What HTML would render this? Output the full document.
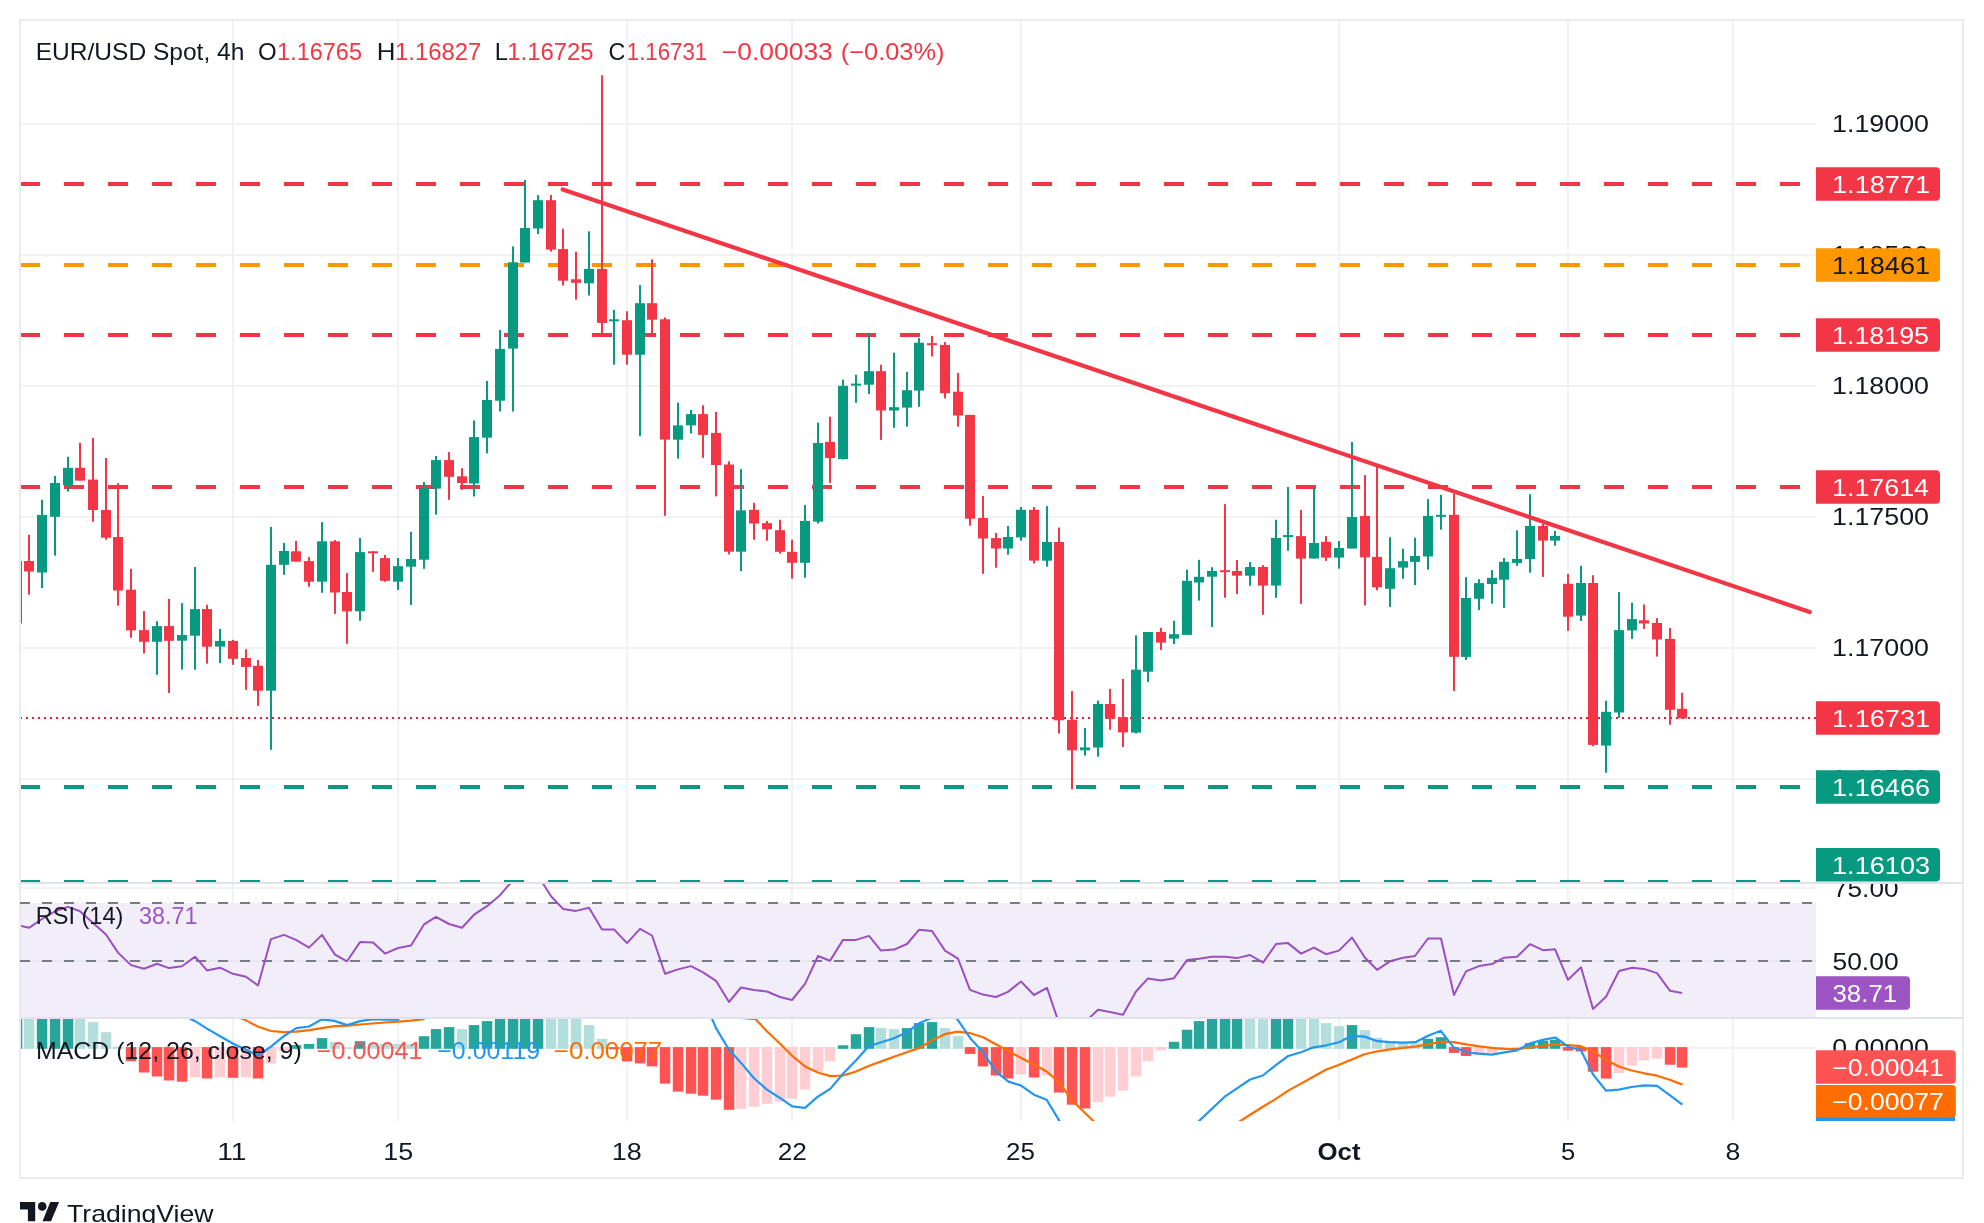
<!DOCTYPE html><html><head><meta charset="utf-8"><style>
html,body{margin:0;padding:0;background:#fff;width:1984px;height:1223px;overflow:hidden;position:relative}
svg text{font-family:"Liberation Sans",sans-serif}
.ov{will-change:transform}
</style></head><body>
<svg width="1984" height="1223" viewBox="0 0 1984 1223" style="position:absolute;left:0;top:0"><defs><clipPath id="cp"><rect x="21" y="21" width="1795" height="861"/></clipPath><clipPath id="cr"><rect x="21" y="884" width="1795" height="133"/></clipPath><clipPath id="cm"><rect x="21" y="1019" width="1795" height="102"/></clipPath></defs><rect x="20" y="20" width="1943" height="1158" fill="#fff" stroke="#eaebef" stroke-width="2"/><rect x="232" y="21" width="2" height="1100" fill="#f1f2f3"/><rect x="397" y="21" width="2" height="1100" fill="#f1f2f3"/><rect x="626" y="21" width="2" height="1100" fill="#f1f2f3"/><rect x="791" y="21" width="2" height="1100" fill="#f1f2f3"/><rect x="1020" y="21" width="2" height="1100" fill="#f1f2f3"/><rect x="1338" y="21" width="2" height="1100" fill="#f1f2f3"/><rect x="1567" y="21" width="2" height="1100" fill="#f1f2f3"/><rect x="1732" y="21" width="2" height="1100" fill="#f1f2f3"/><rect x="21" y="123.0" width="1795" height="2" fill="#f1f2f3"/><rect x="21" y="254.0" width="1795" height="2" fill="#f1f2f3"/><rect x="21" y="385.0" width="1795" height="2" fill="#f1f2f3"/><rect x="21" y="516.0" width="1795" height="2" fill="#f1f2f3"/><rect x="21" y="647.0" width="1795" height="2" fill="#f1f2f3"/><rect x="21" y="778.0" width="1795" height="2" fill="#f1f2f3"/><rect x="21" y="887" width="1795" height="2" fill="#f1f2f3"/><rect x="21" y="882" width="1942" height="2" fill="#e0e3eb"/><rect x="21" y="1017" width="1942" height="2" fill="#e0e3eb"/><g clip-path="url(#cp)"><line x1="20" y1="184.0" x2="1816" y2="184.0" stroke="#f23645" stroke-width="4" stroke-dasharray="20 24"/><line x1="20" y1="265.0" x2="1816" y2="265.0" stroke="#ff9800" stroke-width="4" stroke-dasharray="20 24"/><line x1="20" y1="335.0" x2="1816" y2="335.0" stroke="#f23645" stroke-width="4" stroke-dasharray="20 24"/><line x1="20" y1="487.0" x2="1816" y2="487.0" stroke="#f23645" stroke-width="4" stroke-dasharray="20 24"/><line x1="20" y1="787.0" x2="1816" y2="787.0" stroke="#089981" stroke-width="4" stroke-dasharray="20 24"/><line x1="20" y1="882.0" x2="1816" y2="882.0" stroke="#089981" stroke-width="4" stroke-dasharray="20 24"/><line x1="20" y1="718" x2="1816" y2="718" stroke="#ee1a2a" stroke-width="2" stroke-dasharray="2 4"/><rect x="16.0" y="561.0" width="2" height="62.5" fill="#089981"/><rect x="12.0" y="561.0" width="10" height="62.5" fill="#089981"/><rect x="28.0" y="534.8" width="2" height="59.8" fill="#f23645"/><rect x="24.0" y="561.0" width="10" height="10.5" fill="#f23645"/><rect x="41.0" y="499.7" width="2" height="88.3" fill="#089981"/><rect x="37.0" y="514.9" width="10" height="57.6" fill="#089981"/><rect x="54.0" y="475.9" width="2" height="79.7" fill="#089981"/><rect x="50.0" y="483.0" width="10" height="33.8" fill="#089981"/><rect x="67.0" y="456.8" width="2" height="34.8" fill="#089981"/><rect x="63.0" y="467.8" width="10" height="17.2" fill="#089981"/><rect x="79.0" y="442.8" width="2" height="37.8" fill="#f23645"/><rect x="75.0" y="467.8" width="10" height="12.8" fill="#f23645"/><rect x="92.0" y="437.9" width="2" height="83.9" fill="#f23645"/><rect x="88.0" y="479.6" width="10" height="30.4" fill="#f23645"/><rect x="105.0" y="458.0" width="2" height="81.7" fill="#f23645"/><rect x="101.0" y="510.0" width="10" height="27.7" fill="#f23645"/><rect x="117.0" y="483.3" width="2" height="122.4" fill="#f23645"/><rect x="113.0" y="537.0" width="10" height="53.5" fill="#f23645"/><rect x="130.0" y="568.9" width="2" height="68.9" fill="#f23645"/><rect x="126.0" y="589.7" width="10" height="40.7" fill="#f23645"/><rect x="143.0" y="611.0" width="2" height="42.5" fill="#f23645"/><rect x="139.0" y="630.1" width="10" height="11.7" fill="#f23645"/><rect x="156.0" y="621.2" width="2" height="53.6" fill="#089981"/><rect x="152.0" y="626.1" width="10" height="15.7" fill="#089981"/><rect x="168.0" y="598.9" width="2" height="94.0" fill="#f23645"/><rect x="164.0" y="626.1" width="10" height="14.7" fill="#f23645"/><rect x="181.0" y="603.1" width="2" height="66.5" fill="#089981"/><rect x="177.0" y="635.0" width="10" height="5.7" fill="#089981"/><rect x="194.0" y="567.0" width="2" height="102.7" fill="#089981"/><rect x="190.0" y="609.1" width="10" height="26.6" fill="#089981"/><rect x="206.0" y="604.8" width="2" height="58.9" fill="#f23645"/><rect x="202.0" y="609.1" width="10" height="37.6" fill="#f23645"/><rect x="219.0" y="629.0" width="2" height="34.0" fill="#089981"/><rect x="215.0" y="640.9" width="10" height="5.7" fill="#089981"/><rect x="232.0" y="639.9" width="2" height="24.9" fill="#f23645"/><rect x="228.0" y="640.9" width="10" height="17.9" fill="#f23645"/><rect x="245.0" y="649.2" width="2" height="40.6" fill="#f23645"/><rect x="241.0" y="658.0" width="10" height="8.9" fill="#f23645"/><rect x="257.0" y="659.9" width="2" height="45.9" fill="#f23645"/><rect x="253.0" y="665.8" width="10" height="24.9" fill="#f23645"/><rect x="270.0" y="527.0" width="2" height="222.8" fill="#089981"/><rect x="266.0" y="564.8" width="10" height="125.9" fill="#089981"/><rect x="283.0" y="542.9" width="2" height="31.9" fill="#089981"/><rect x="279.0" y="551.0" width="10" height="13.8" fill="#089981"/><rect x="295.0" y="541.0" width="2" height="20.6" fill="#f23645"/><rect x="291.0" y="551.3" width="10" height="10.3" fill="#f23645"/><rect x="308.0" y="557.1" width="2" height="29.7" fill="#f23645"/><rect x="304.0" y="561.1" width="10" height="20.6" fill="#f23645"/><rect x="321.0" y="522.1" width="2" height="70.7" fill="#089981"/><rect x="317.0" y="541.3" width="10" height="40.4" fill="#089981"/><rect x="334.0" y="540.1" width="2" height="73.7" fill="#f23645"/><rect x="330.0" y="541.3" width="10" height="51.2" fill="#f23645"/><rect x="346.0" y="573.1" width="2" height="70.7" fill="#f23645"/><rect x="342.0" y="592.0" width="10" height="19.4" fill="#f23645"/><rect x="359.0" y="537.9" width="2" height="82.9" fill="#089981"/><rect x="355.0" y="552.1" width="10" height="59.2" fill="#089981"/><rect x="372.0" y="551.3" width="2" height="20.6" fill="#f23645"/><rect x="368.0" y="551.3" width="10" height="2.0" fill="#f23645"/><rect x="384.0" y="555.0" width="2" height="26.8" fill="#f23645"/><rect x="380.0" y="558.1" width="10" height="22.7" fill="#f23645"/><rect x="397.0" y="558.0" width="2" height="31.9" fill="#089981"/><rect x="393.0" y="566.2" width="10" height="15.5" fill="#089981"/><rect x="410.0" y="531.9" width="2" height="73.0" fill="#089981"/><rect x="406.0" y="559.0" width="10" height="7.7" fill="#089981"/><rect x="423.0" y="482.1" width="2" height="86.7" fill="#089981"/><rect x="419.0" y="488.1" width="10" height="71.6" fill="#089981"/><rect x="435.0" y="456.0" width="2" height="58.7" fill="#089981"/><rect x="431.0" y="460.1" width="10" height="28.5" fill="#089981"/><rect x="448.0" y="452.1" width="2" height="47.7" fill="#f23645"/><rect x="444.0" y="460.1" width="10" height="16.7" fill="#f23645"/><rect x="461.0" y="468.2" width="2" height="21.6" fill="#f23645"/><rect x="457.0" y="476.3" width="10" height="6.7" fill="#f23645"/><rect x="473.0" y="420.4" width="2" height="76.1" fill="#089981"/><rect x="469.0" y="437.1" width="10" height="46.4" fill="#089981"/><rect x="486.0" y="381.0" width="2" height="72.3" fill="#089981"/><rect x="482.0" y="399.9" width="10" height="37.8" fill="#089981"/><rect x="499.0" y="330.0" width="2" height="81.5" fill="#089981"/><rect x="495.0" y="348.9" width="10" height="51.8" fill="#089981"/><rect x="512.0" y="246.4" width="2" height="165.1" fill="#089981"/><rect x="508.0" y="262.3" width="10" height="86.3" fill="#089981"/><rect x="524.0" y="180.0" width="2" height="82.6" fill="#089981"/><rect x="520.0" y="228.0" width="10" height="34.5" fill="#089981"/><rect x="537.0" y="195.1" width="2" height="38.9" fill="#089981"/><rect x="533.0" y="200.2" width="10" height="28.3" fill="#089981"/><rect x="550.0" y="195.1" width="2" height="56.4" fill="#f23645"/><rect x="546.0" y="200.2" width="10" height="49.4" fill="#f23645"/><rect x="562.0" y="228.8" width="2" height="56.7" fill="#f23645"/><rect x="558.0" y="249.1" width="10" height="31.6" fill="#f23645"/><rect x="575.0" y="251.8" width="2" height="47.8" fill="#f23645"/><rect x="571.0" y="279.3" width="10" height="3.5" fill="#f23645"/><rect x="588.0" y="231.3" width="2" height="64.2" fill="#089981"/><rect x="584.0" y="269.0" width="10" height="14.3" fill="#089981"/><rect x="601.0" y="75.3" width="2" height="257.8" fill="#f23645"/><rect x="597.0" y="268.9" width="10" height="54.0" fill="#f23645"/><rect x="613.0" y="309.9" width="2" height="54.8" fill="#089981"/><rect x="609.0" y="319.3" width="10" height="2.0" fill="#089981"/><rect x="626.0" y="311.3" width="2" height="53.4" fill="#f23645"/><rect x="622.0" y="320.2" width="10" height="34.5" fill="#f23645"/><rect x="639.0" y="285.1" width="2" height="151.1" fill="#089981"/><rect x="635.0" y="303.2" width="10" height="51.5" fill="#089981"/><rect x="651.0" y="259.4" width="2" height="73.7" fill="#f23645"/><rect x="647.0" y="303.2" width="10" height="16.5" fill="#f23645"/><rect x="664.0" y="317.5" width="2" height="198.3" fill="#f23645"/><rect x="660.0" y="319.3" width="10" height="120.3" fill="#f23645"/><rect x="677.0" y="402.5" width="2" height="56.1" fill="#089981"/><rect x="673.0" y="425.4" width="10" height="14.3" fill="#089981"/><rect x="690.0" y="410.0" width="2" height="23.5" fill="#089981"/><rect x="686.0" y="414.1" width="10" height="11.3" fill="#089981"/><rect x="702.0" y="405.2" width="2" height="52.6" fill="#f23645"/><rect x="698.0" y="414.1" width="10" height="20.8" fill="#f23645"/><rect x="715.0" y="411.9" width="2" height="84.5" fill="#f23645"/><rect x="711.0" y="432.9" width="10" height="32.1" fill="#f23645"/><rect x="728.0" y="461.3" width="2" height="93.1" fill="#f23645"/><rect x="724.0" y="464.5" width="10" height="87.2" fill="#f23645"/><rect x="740.0" y="469.1" width="2" height="102.0" fill="#089981"/><rect x="736.0" y="510.4" width="10" height="41.3" fill="#089981"/><rect x="753.0" y="502.8" width="2" height="36.9" fill="#f23645"/><rect x="749.0" y="509.8" width="10" height="13.7" fill="#f23645"/><rect x="766.0" y="520.9" width="2" height="19.9" fill="#f23645"/><rect x="762.0" y="523.1" width="10" height="6.2" fill="#f23645"/><rect x="779.0" y="519.8" width="2" height="33.8" fill="#f23645"/><rect x="775.0" y="530.2" width="10" height="21.6" fill="#f23645"/><rect x="791.0" y="539.6" width="2" height="39.1" fill="#f23645"/><rect x="787.0" y="551.8" width="10" height="11.0" fill="#f23645"/><rect x="804.0" y="505.0" width="2" height="72.8" fill="#089981"/><rect x="800.0" y="520.9" width="10" height="41.9" fill="#089981"/><rect x="817.0" y="422.6" width="2" height="100.9" fill="#089981"/><rect x="813.0" y="443.0" width="10" height="78.6" fill="#089981"/><rect x="829.0" y="416.7" width="2" height="66.2" fill="#f23645"/><rect x="825.0" y="441.9" width="10" height="16.1" fill="#f23645"/><rect x="842.0" y="379.6" width="2" height="79.9" fill="#089981"/><rect x="838.0" y="385.8" width="10" height="73.3" fill="#089981"/><rect x="855.0" y="374.7" width="2" height="28.0" fill="#089981"/><rect x="851.0" y="383.6" width="10" height="2.0" fill="#089981"/><rect x="868.0" y="332.8" width="2" height="61.1" fill="#089981"/><rect x="864.0" y="371.2" width="10" height="13.5" fill="#089981"/><rect x="880.0" y="364.8" width="2" height="75.1" fill="#f23645"/><rect x="876.0" y="371.2" width="10" height="39.3" fill="#f23645"/><rect x="893.0" y="352.7" width="2" height="75.1" fill="#089981"/><rect x="889.0" y="407.2" width="10" height="3.3" fill="#089981"/><rect x="906.0" y="371.9" width="2" height="54.7" fill="#089981"/><rect x="902.0" y="390.2" width="10" height="17.4" fill="#089981"/><rect x="918.0" y="338.1" width="2" height="68.7" fill="#089981"/><rect x="914.0" y="342.7" width="10" height="47.9" fill="#089981"/><rect x="931.0" y="335.9" width="2" height="20.5" fill="#f23645"/><rect x="927.0" y="343.2" width="10" height="2.0" fill="#f23645"/><rect x="944.0" y="342.1" width="2" height="56.3" fill="#f23645"/><rect x="940.0" y="344.9" width="10" height="48.3" fill="#f23645"/><rect x="957.0" y="373.0" width="2" height="53.6" fill="#f23645"/><rect x="953.0" y="391.7" width="10" height="23.8" fill="#f23645"/><rect x="969.0" y="414.9" width="2" height="110.8" fill="#f23645"/><rect x="965.0" y="414.9" width="10" height="103.8" fill="#f23645"/><rect x="982.0" y="495.9" width="2" height="77.9" fill="#f23645"/><rect x="978.0" y="518.0" width="10" height="20.5" fill="#f23645"/><rect x="995.0" y="533.0" width="2" height="34.7" fill="#f23645"/><rect x="991.0" y="538.1" width="10" height="10.4" fill="#f23645"/><rect x="1007.0" y="526.0" width="2" height="28.7" fill="#089981"/><rect x="1003.0" y="537.0" width="10" height="11.5" fill="#089981"/><rect x="1020.0" y="507.0" width="2" height="33.8" fill="#089981"/><rect x="1016.0" y="509.8" width="10" height="27.6" fill="#089981"/><rect x="1033.0" y="507.0" width="2" height="56.5" fill="#f23645"/><rect x="1029.0" y="509.8" width="10" height="50.8" fill="#f23645"/><rect x="1046.0" y="506.1" width="2" height="60.5" fill="#089981"/><rect x="1042.0" y="541.9" width="10" height="18.8" fill="#089981"/><rect x="1058.0" y="527.5" width="2" height="206.0" fill="#f23645"/><rect x="1054.0" y="542.0" width="10" height="178.3" fill="#f23645"/><rect x="1071.0" y="691.1" width="2" height="98.2" fill="#f23645"/><rect x="1067.0" y="719.8" width="10" height="30.5" fill="#f23645"/><rect x="1084.0" y="728.0" width="2" height="27.6" fill="#089981"/><rect x="1080.0" y="747.4" width="10" height="2.9" fill="#089981"/><rect x="1097.0" y="700.6" width="2" height="56.1" fill="#089981"/><rect x="1093.0" y="704.0" width="10" height="43.5" fill="#089981"/><rect x="1109.0" y="688.9" width="2" height="40.8" fill="#f23645"/><rect x="1105.0" y="704.0" width="10" height="14.8" fill="#f23645"/><rect x="1122.0" y="679.0" width="2" height="68.0" fill="#f23645"/><rect x="1118.0" y="717.2" width="10" height="15.2" fill="#f23645"/><rect x="1135.0" y="635.3" width="2" height="98.2" fill="#089981"/><rect x="1131.0" y="669.7" width="10" height="62.9" fill="#089981"/><rect x="1147.0" y="632.0" width="2" height="49.9" fill="#089981"/><rect x="1143.0" y="632.0" width="10" height="39.7" fill="#089981"/><rect x="1160.0" y="627.8" width="2" height="22.1" fill="#f23645"/><rect x="1156.0" y="632.0" width="10" height="10.6" fill="#f23645"/><rect x="1173.0" y="620.9" width="2" height="23.2" fill="#089981"/><rect x="1169.0" y="634.2" width="10" height="4.4" fill="#089981"/><rect x="1186.0" y="569.7" width="2" height="65.1" fill="#089981"/><rect x="1182.0" y="580.8" width="10" height="54.1" fill="#089981"/><rect x="1198.0" y="559.8" width="2" height="40.8" fill="#089981"/><rect x="1194.0" y="576.8" width="10" height="5.7" fill="#089981"/><rect x="1211.0" y="567.2" width="2" height="59.7" fill="#089981"/><rect x="1207.0" y="571.0" width="10" height="5.7" fill="#089981"/><rect x="1224.0" y="504.1" width="2" height="93.6" fill="#f23645"/><rect x="1220.0" y="570.2" width="10" height="2.0" fill="#f23645"/><rect x="1236.0" y="560.0" width="2" height="33.9" fill="#f23645"/><rect x="1232.0" y="571.0" width="10" height="4.7" fill="#f23645"/><rect x="1249.0" y="562.0" width="2" height="23.8" fill="#089981"/><rect x="1245.0" y="567.0" width="10" height="8.7" fill="#089981"/><rect x="1262.0" y="565.1" width="2" height="49.7" fill="#f23645"/><rect x="1258.0" y="567.0" width="10" height="18.6" fill="#f23645"/><rect x="1275.0" y="519.8" width="2" height="78.0" fill="#089981"/><rect x="1271.0" y="537.9" width="10" height="47.7" fill="#089981"/><rect x="1287.0" y="487.0" width="2" height="63.8" fill="#089981"/><rect x="1283.0" y="535.1" width="10" height="2.0" fill="#089981"/><rect x="1300.0" y="510.0" width="2" height="93.9" fill="#f23645"/><rect x="1296.0" y="536.1" width="10" height="22.5" fill="#f23645"/><rect x="1313.0" y="487.0" width="2" height="71.6" fill="#089981"/><rect x="1309.0" y="543.0" width="10" height="15.5" fill="#089981"/><rect x="1325.0" y="536.1" width="2" height="24.8" fill="#f23645"/><rect x="1321.0" y="541.8" width="10" height="15.8" fill="#f23645"/><rect x="1338.0" y="541.0" width="2" height="27.6" fill="#089981"/><rect x="1334.0" y="548.0" width="10" height="9.6" fill="#089981"/><rect x="1351.0" y="442.0" width="2" height="106.5" fill="#089981"/><rect x="1347.0" y="517.0" width="10" height="31.5" fill="#089981"/><rect x="1364.0" y="475.1" width="2" height="130.3" fill="#f23645"/><rect x="1360.0" y="515.9" width="10" height="41.5" fill="#f23645"/><rect x="1376.0" y="466.6" width="2" height="123.7" fill="#f23645"/><rect x="1372.0" y="556.9" width="10" height="30.4" fill="#f23645"/><rect x="1389.0" y="537.2" width="2" height="69.7" fill="#089981"/><rect x="1385.0" y="568.2" width="10" height="20.6" fill="#089981"/><rect x="1402.0" y="548.8" width="2" height="30.0" fill="#089981"/><rect x="1398.0" y="561.2" width="10" height="6.4" fill="#089981"/><rect x="1414.0" y="537.8" width="2" height="47.2" fill="#089981"/><rect x="1410.0" y="555.9" width="10" height="6.0" fill="#089981"/><rect x="1427.0" y="499.1" width="2" height="70.6" fill="#089981"/><rect x="1423.0" y="515.9" width="10" height="40.6" fill="#089981"/><rect x="1440.0" y="494.8" width="2" height="34.9" fill="#089981"/><rect x="1436.0" y="514.8" width="10" height="2.0" fill="#089981"/><rect x="1453.0" y="493.8" width="2" height="197.1" fill="#f23645"/><rect x="1449.0" y="514.8" width="10" height="142.0" fill="#f23645"/><rect x="1465.0" y="577.1" width="2" height="82.9" fill="#089981"/><rect x="1461.0" y="598.0" width="10" height="58.9" fill="#089981"/><rect x="1478.0" y="579.2" width="2" height="30.8" fill="#089981"/><rect x="1474.0" y="583.1" width="10" height="15.7" fill="#089981"/><rect x="1491.0" y="570.1" width="2" height="33.6" fill="#089981"/><rect x="1487.0" y="577.8" width="10" height="6.2" fill="#089981"/><rect x="1503.0" y="558.0" width="2" height="50.0" fill="#089981"/><rect x="1499.0" y="561.8" width="10" height="17.9" fill="#089981"/><rect x="1516.0" y="530.3" width="2" height="35.6" fill="#089981"/><rect x="1512.0" y="559.0" width="10" height="3.9" fill="#089981"/><rect x="1529.0" y="494.2" width="2" height="78.5" fill="#089981"/><rect x="1525.0" y="525.9" width="10" height="33.1" fill="#089981"/><rect x="1542.0" y="523.7" width="2" height="53.2" fill="#f23645"/><rect x="1538.0" y="525.9" width="10" height="14.7" fill="#f23645"/><rect x="1554.0" y="531.0" width="2" height="14.7" fill="#089981"/><rect x="1550.0" y="535.9" width="10" height="4.7" fill="#089981"/><rect x="1567.0" y="573.9" width="2" height="56.9" fill="#f23645"/><rect x="1563.0" y="583.8" width="10" height="32.9" fill="#f23645"/><rect x="1580.0" y="565.8" width="2" height="55.2" fill="#089981"/><rect x="1576.0" y="583.0" width="10" height="32.6" fill="#089981"/><rect x="1592.0" y="575.2" width="2" height="171.0" fill="#f23645"/><rect x="1588.0" y="583.0" width="10" height="161.9" fill="#f23645"/><rect x="1605.0" y="700.8" width="2" height="71.9" fill="#089981"/><rect x="1601.0" y="711.8" width="10" height="33.8" fill="#089981"/><rect x="1618.0" y="592.1" width="2" height="125.8" fill="#089981"/><rect x="1614.0" y="630.1" width="10" height="82.4" fill="#089981"/><rect x="1631.0" y="602.6" width="2" height="36.3" fill="#089981"/><rect x="1627.0" y="619.1" width="10" height="11.3" fill="#089981"/><rect x="1643.0" y="604.4" width="2" height="24.5" fill="#f23645"/><rect x="1639.0" y="620.3" width="10" height="3.2" fill="#f23645"/><rect x="1656.0" y="618.1" width="2" height="38.5" fill="#f23645"/><rect x="1652.0" y="623.0" width="10" height="16.4" fill="#f23645"/><rect x="1669.0" y="627.9" width="2" height="96.9" fill="#f23645"/><rect x="1665.0" y="638.9" width="10" height="70.9" fill="#f23645"/><rect x="1681.0" y="692.9" width="2" height="25.5" fill="#f23645"/><rect x="1677.0" y="708.8" width="10" height="9.6" fill="#f23645"/><line x1="562.7" y1="189.5" x2="1809.8" y2="612" stroke="#f23645" stroke-width="4.2" stroke-linecap="round"/></g><rect x="21" y="903" width="1795" height="114" fill="#f2eef9"/><rect x="21" y="960" width="1795" height="2" fill="#e9e6f0"/><line x1="20" y1="903" x2="1816" y2="903" stroke="#787b86" stroke-width="2" stroke-dasharray="10 12"/><line x1="20" y1="961" x2="1816" y2="961" stroke="#787b86" stroke-width="2" stroke-dasharray="10 12"/><g clip-path="url(#cr)"><polyline points="17.0,925.0 29.0,927.8 42.0,919.0 55.0,911.3 68.0,906.9 80.0,911.3 93.0,923.0 106.0,934.5 118.0,952.6 131.0,965.1 144.0,968.8 157.0,963.7 169.0,968.1 182.0,966.3 195.0,956.7 207.0,970.4 220.0,967.7 233.0,973.8 246.0,976.8 258.0,985.5 271.0,939.1 284.0,934.9 296.0,939.9 309.0,947.6 322.0,934.9 335.0,954.6 347.0,961.3 360.0,942.1 373.0,942.5 385.0,953.6 398.0,948.0 411.0,945.6 424.0,924.4 436.0,916.9 449.0,924.0 462.0,927.8 474.0,914.7 487.0,906.2 500.0,895.2 513.0,880.0 525.0,862.9 538.0,875.6 551.0,896.2 563.0,908.9 576.0,910.9 589.0,907.7 602.0,929.4 614.0,929.4 627.0,943.1 640.0,928.8 652.0,935.5 665.0,973.8 678.0,969.4 691.0,966.1 703.0,972.4 716.0,980.8 729.0,1002.0 741.0,987.5 754.0,989.9 767.0,991.5 780.0,997.0 792.0,1000.0 805.0,983.9 818.0,956.0 830.0,960.7 843.0,939.9 856.0,939.9 869.0,935.9 881.0,950.6 894.0,949.6 907.0,944.0 919.0,929.8 932.0,931.0 945.0,950.6 958.0,958.7 970.0,989.9 983.0,994.6 996.0,997.0 1008.0,991.9 1021.0,981.5 1034.0,995.0 1047.0,987.9 1059.0,1023.2 1072.0,1030.2 1085.0,1022.2 1098.0,1009.7 1110.0,1012.1 1123.0,1014.7 1136.0,991.5 1148.0,978.4 1161.0,980.4 1174.0,978.2 1187.0,960.1 1199.0,958.7 1212.0,956.7 1225.0,956.7 1237.0,958.1 1250.0,955.0 1263.0,962.7 1276.0,944.0 1288.0,943.1 1301.0,953.6 1314.0,947.6 1326.0,954.2 1339.0,950.6 1352.0,937.5 1365.0,957.7 1377.0,969.8 1390.0,961.3 1403.0,957.7 1415.0,956.0 1428.0,938.5 1441.0,938.5 1454.0,995.0 1466.0,971.4 1479.0,966.1 1492.0,964.1 1504.0,957.7 1517.0,956.7 1530.0,944.2 1543.0,950.2 1555.0,949.2 1568.0,979.8 1581.0,967.3 1593.0,1008.9 1606.0,996.8 1619.0,971.0 1632.0,967.7 1644.0,968.9 1657.0,973.1 1670.0,990.8 1682.0,993.1" fill="none" stroke="#9b4fc2" stroke-width="2" stroke-linejoin="round"/></g><g clip-path="url(#cm)"><rect x="21" y="1046.8" width="1795" height="2" fill="#f1f2f3"/><rect x="11.8" y="1010.0" width="10.5" height="38.8" fill="#26a69a"/><rect x="23.8" y="1010.0" width="10.5" height="38.8" fill="#b2dfdb"/><rect x="36.8" y="1010.0" width="10.5" height="38.8" fill="#26a69a"/><rect x="49.8" y="1010.0" width="10.5" height="38.8" fill="#26a69a"/><rect x="62.8" y="1010.0" width="10.5" height="38.8" fill="#26a69a"/><rect x="74.8" y="1010.0" width="10.5" height="38.8" fill="#b2dfdb"/><rect x="87.8" y="1022.0" width="10.5" height="26.8" fill="#b2dfdb"/><rect x="100.8" y="1032.2" width="10.5" height="16.6" fill="#b2dfdb"/><rect x="112.8" y="1046.7" width="10.5" height="2.1" fill="#b2dfdb"/><rect x="125.8" y="1047.1" width="10.5" height="14.1" fill="#ff5252"/><rect x="138.8" y="1047.1" width="10.5" height="25.4" fill="#ff5252"/><rect x="151.8" y="1047.1" width="10.5" height="29.4" fill="#ff5252"/><rect x="163.8" y="1047.1" width="10.5" height="33.4" fill="#ff5252"/><rect x="176.8" y="1047.1" width="10.5" height="34.6" fill="#ff5252"/><rect x="189.8" y="1047.1" width="10.5" height="30.2" fill="#ffcdd2"/><rect x="201.8" y="1047.1" width="10.5" height="31.4" fill="#ff5252"/><rect x="214.8" y="1047.1" width="10.5" height="30.2" fill="#ffcdd2"/><rect x="227.8" y="1047.1" width="10.5" height="30.7" fill="#ff5252"/><rect x="240.8" y="1047.1" width="10.5" height="30.2" fill="#ffcdd2"/><rect x="252.8" y="1047.1" width="10.5" height="31.4" fill="#ff5252"/><rect x="265.8" y="1047.1" width="10.5" height="16.5" fill="#ffcdd2"/><rect x="278.8" y="1047.1" width="10.5" height="4.4" fill="#ffcdd2"/><rect x="290.8" y="1045.1" width="10.5" height="3.7" fill="#26a69a"/><rect x="303.8" y="1043.9" width="10.5" height="4.9" fill="#26a69a"/><rect x="316.8" y="1038.1" width="10.5" height="10.7" fill="#26a69a"/><rect x="329.8" y="1041.8" width="10.5" height="7.0" fill="#b2dfdb"/><rect x="341.8" y="1047.3" width="10.5" height="1.5" fill="#b2dfdb"/><rect x="354.8" y="1041.2" width="10.5" height="7.6" fill="#26a69a"/><rect x="367.8" y="1043.9" width="10.5" height="4.9" fill="#b2dfdb"/><rect x="379.8" y="1043.9" width="10.5" height="4.9" fill="#b2dfdb"/><rect x="392.8" y="1043.9" width="10.5" height="4.9" fill="#b2dfdb"/><rect x="405.8" y="1044.3" width="10.5" height="4.5" fill="#b2dfdb"/><rect x="418.8" y="1036.2" width="10.5" height="12.6" fill="#26a69a"/><rect x="430.8" y="1029.1" width="10.5" height="19.7" fill="#26a69a"/><rect x="443.8" y="1027.1" width="10.5" height="21.7" fill="#26a69a"/><rect x="456.8" y="1029.1" width="10.5" height="19.7" fill="#b2dfdb"/><rect x="468.8" y="1025.1" width="10.5" height="23.7" fill="#26a69a"/><rect x="481.8" y="1021.1" width="10.5" height="27.7" fill="#26a69a"/><rect x="494.8" y="1010.0" width="10.5" height="38.8" fill="#26a69a"/><rect x="507.8" y="1010.0" width="10.5" height="38.8" fill="#26a69a"/><rect x="519.8" y="1010.0" width="10.5" height="38.8" fill="#26a69a"/><rect x="532.8" y="1010.0" width="10.5" height="38.8" fill="#26a69a"/><rect x="545.8" y="1010.0" width="10.5" height="38.8" fill="#b2dfdb"/><rect x="557.8" y="1010.0" width="10.5" height="38.8" fill="#b2dfdb"/><rect x="570.8" y="1010.0" width="10.5" height="38.8" fill="#b2dfdb"/><rect x="583.8" y="1025.1" width="10.5" height="23.7" fill="#b2dfdb"/><rect x="596.8" y="1038.8" width="10.5" height="10.0" fill="#b2dfdb"/><rect x="608.8" y="1047.1" width="10.5" height="2.2" fill="#ff5252"/><rect x="621.8" y="1047.1" width="10.5" height="14.3" fill="#ff5252"/><rect x="634.8" y="1047.1" width="10.5" height="16.3" fill="#ff5252"/><rect x="646.8" y="1047.1" width="10.5" height="19.3" fill="#ff5252"/><rect x="659.8" y="1047.1" width="10.5" height="36.5" fill="#ff5252"/><rect x="672.8" y="1047.1" width="10.5" height="44.5" fill="#ff5252"/><rect x="685.8" y="1047.1" width="10.5" height="46.6" fill="#ff5252"/><rect x="697.8" y="1047.1" width="10.5" height="48.6" fill="#ff5252"/><rect x="710.8" y="1047.1" width="10.5" height="52.6" fill="#ff5252"/><rect x="723.8" y="1047.1" width="10.5" height="62.7" fill="#ff5252"/><rect x="735.8" y="1047.1" width="10.5" height="61.7" fill="#ffcdd2"/><rect x="748.8" y="1047.1" width="10.5" height="59.7" fill="#ffcdd2"/><rect x="761.8" y="1047.1" width="10.5" height="56.6" fill="#ffcdd2"/><rect x="774.8" y="1047.1" width="10.5" height="54.6" fill="#ffcdd2"/><rect x="786.8" y="1047.1" width="10.5" height="51.6" fill="#ffcdd2"/><rect x="799.8" y="1047.1" width="10.5" height="42.5" fill="#ffcdd2"/><rect x="812.8" y="1047.1" width="10.5" height="24.4" fill="#ffcdd2"/><rect x="824.8" y="1047.1" width="10.5" height="14.3" fill="#ffcdd2"/><rect x="837.8" y="1045.3" width="10.5" height="3.5" fill="#26a69a"/><rect x="850.8" y="1034.2" width="10.5" height="14.6" fill="#26a69a"/><rect x="863.8" y="1027.1" width="10.5" height="21.7" fill="#26a69a"/><rect x="875.8" y="1028.1" width="10.5" height="20.7" fill="#b2dfdb"/><rect x="888.8" y="1029.1" width="10.5" height="19.7" fill="#b2dfdb"/><rect x="901.8" y="1028.1" width="10.5" height="20.7" fill="#26a69a"/><rect x="913.8" y="1023.1" width="10.5" height="25.7" fill="#26a69a"/><rect x="926.8" y="1022.1" width="10.5" height="26.7" fill="#26a69a"/><rect x="939.8" y="1028.1" width="10.5" height="20.7" fill="#b2dfdb"/><rect x="952.8" y="1036.2" width="10.5" height="12.6" fill="#b2dfdb"/><rect x="964.8" y="1047.1" width="10.5" height="6.8" fill="#ff5252"/><rect x="977.8" y="1047.1" width="10.5" height="19.3" fill="#ff5252"/><rect x="990.8" y="1047.1" width="10.5" height="28.4" fill="#ff5252"/><rect x="1002.8" y="1047.1" width="10.5" height="31.4" fill="#ff5252"/><rect x="1015.8" y="1047.1" width="10.5" height="27.4" fill="#ffcdd2"/><rect x="1028.8" y="1047.1" width="10.5" height="30.4" fill="#ff5252"/><rect x="1041.8" y="1047.1" width="10.5" height="28.4" fill="#ffcdd2"/><rect x="1053.8" y="1047.1" width="10.5" height="45.5" fill="#ff5252"/><rect x="1066.8" y="1047.1" width="10.5" height="57.6" fill="#ff5252"/><rect x="1079.8" y="1047.1" width="10.5" height="61.3" fill="#ff5252"/><rect x="1092.8" y="1047.1" width="10.5" height="55.2" fill="#ffcdd2"/><rect x="1104.8" y="1047.1" width="10.5" height="49.6" fill="#ffcdd2"/><rect x="1117.8" y="1047.1" width="10.5" height="43.5" fill="#ffcdd2"/><rect x="1130.8" y="1047.1" width="10.5" height="29.4" fill="#ffcdd2"/><rect x="1142.8" y="1047.1" width="10.5" height="14.3" fill="#ffcdd2"/><rect x="1155.8" y="1047.1" width="10.5" height="3.2" fill="#ffcdd2"/><rect x="1168.8" y="1041.8" width="10.5" height="7.0" fill="#26a69a"/><rect x="1181.8" y="1029.7" width="10.5" height="19.1" fill="#26a69a"/><rect x="1193.8" y="1021.1" width="10.5" height="27.7" fill="#26a69a"/><rect x="1206.8" y="1010.0" width="10.5" height="38.8" fill="#26a69a"/><rect x="1219.8" y="1010.0" width="10.5" height="38.8" fill="#26a69a"/><rect x="1231.8" y="1010.0" width="10.5" height="38.8" fill="#26a69a"/><rect x="1244.8" y="1010.0" width="10.5" height="38.8" fill="#b2dfdb"/><rect x="1257.8" y="1010.0" width="10.5" height="38.8" fill="#b2dfdb"/><rect x="1270.8" y="1010.0" width="10.5" height="38.8" fill="#26a69a"/><rect x="1282.8" y="1010.0" width="10.5" height="38.8" fill="#26a69a"/><rect x="1295.8" y="1010.0" width="10.5" height="38.8" fill="#b2dfdb"/><rect x="1308.8" y="1010.0" width="10.5" height="38.8" fill="#b2dfdb"/><rect x="1320.8" y="1023.1" width="10.5" height="25.7" fill="#b2dfdb"/><rect x="1333.8" y="1026.1" width="10.5" height="22.7" fill="#b2dfdb"/><rect x="1346.8" y="1025.1" width="10.5" height="23.7" fill="#26a69a"/><rect x="1359.8" y="1030.1" width="10.5" height="18.7" fill="#b2dfdb"/><rect x="1371.8" y="1037.8" width="10.5" height="11.0" fill="#b2dfdb"/><rect x="1384.8" y="1041.2" width="10.5" height="7.6" fill="#b2dfdb"/><rect x="1397.8" y="1043.2" width="10.5" height="5.5" fill="#b2dfdb"/><rect x="1409.8" y="1043.2" width="10.5" height="5.5" fill="#b2dfdb"/><rect x="1422.8" y="1038.8" width="10.5" height="10.0" fill="#26a69a"/><rect x="1435.8" y="1037.2" width="10.5" height="11.6" fill="#26a69a"/><rect x="1448.8" y="1047.1" width="10.5" height="5.8" fill="#ff5252"/><rect x="1460.8" y="1047.1" width="10.5" height="8.9" fill="#ff5252"/><rect x="1473.8" y="1047.1" width="10.5" height="8.2" fill="#ffcdd2"/><rect x="1486.8" y="1047.1" width="10.5" height="6.0" fill="#ffcdd2"/><rect x="1498.8" y="1047.1" width="10.5" height="2.8" fill="#ffcdd2"/><rect x="1511.8" y="1047.1" width="10.5" height="2.0" fill="#ffcdd2"/><rect x="1524.8" y="1043.1" width="10.5" height="5.7" fill="#26a69a"/><rect x="1537.8" y="1040.7" width="10.5" height="8.1" fill="#26a69a"/><rect x="1549.8" y="1039.7" width="10.5" height="9.1" fill="#26a69a"/><rect x="1562.8" y="1047.1" width="10.5" height="3.6" fill="#ff5252"/><rect x="1575.8" y="1047.1" width="10.5" height="4.4" fill="#ff5252"/><rect x="1587.8" y="1047.1" width="10.5" height="24.6" fill="#ff5252"/><rect x="1600.8" y="1047.1" width="10.5" height="31.5" fill="#ff5252"/><rect x="1613.8" y="1047.1" width="10.5" height="25.9" fill="#ffcdd2"/><rect x="1626.8" y="1047.1" width="10.5" height="18.6" fill="#ffcdd2"/><rect x="1638.8" y="1047.1" width="10.5" height="13.3" fill="#ffcdd2"/><rect x="1651.8" y="1047.1" width="10.5" height="11.7" fill="#ffcdd2"/><rect x="1664.8" y="1047.1" width="10.5" height="17.6" fill="#ff5252"/><rect x="1676.8" y="1047.1" width="10.5" height="20.5" fill="#ff5252"/><polyline points="239.2,1017.6 245.5,1020.1 258.2,1026.8 271.0,1031.0 283.7,1032.2 296.4,1031.7 309.1,1030.1 321.8,1028.1 334.5,1026.2 347.3,1025.7 360.0,1024.5 372.7,1023.5 385.4,1022.5 398.1,1021.7 410.8,1020.7 423.6,1019.1 436.3,991.8 755.4,1019.1 766.9,1031.2 779.6,1043.2 792.3,1056.0 805.0,1066.4 817.8,1072.5 830.5,1076.1 843.2,1075.5 855.9,1071.5 868.6,1066.0 881.3,1061.4 894.0,1056.8 906.8,1052.3 919.5,1047.9 932.2,1040.2 944.9,1034.2 957.6,1031.6 970.3,1033.2 983.1,1037.2 995.8,1044.3 1008.5,1051.3 1021.2,1058.0 1033.9,1064.4 1046.6,1071.5 1059.4,1082.6 1072.1,1100.7 1079.7,1107.8 1084.8,1112.8 1097.5,1124.9 1224.7,1131.0 1237.4,1122.9 1250.1,1114.8 1262.8,1106.8 1275.5,1099.1 1288.2,1090.6 1301.0,1083.6 1313.7,1076.5 1326.4,1069.5 1339.1,1064.8 1351.8,1059.4 1364.5,1054.3 1377.3,1051.3 1390.0,1049.3 1402.7,1047.9 1415.4,1046.7 1428.1,1044.3 1440.8,1041.8 1453.6,1042.2 1466.3,1044.3 1479.0,1046.3 1491.7,1047.8 1504.4,1048.8 1517.1,1049.1 1529.8,1047.5 1542.6,1045.9 1555.3,1044.7 1568.0,1045.1 1580.7,1046.2 1593.4,1051.5 1606.1,1060.1 1618.9,1066.5 1631.6,1070.5 1644.3,1073.3 1657.0,1075.7 1669.7,1079.7 1682.4,1084.6" fill="none" stroke="#ff6d00" stroke-width="2.2" stroke-linejoin="round"/><polyline points="189.6,1018.5 194.7,1020.9 207.4,1028.9 220.1,1036.2 232.8,1043.5 245.5,1049.4 258.2,1055.5 271.0,1046.7 283.7,1036.2 296.4,1028.1 309.1,1026.5 321.8,1019.3 334.5,1020.9 347.3,1025.1 360.0,1021.1 372.7,1019.1 385.4,1019.7 398.1,1019.7 410.8,991.8 703.3,991.8 712.2,1019.1 716.0,1028.1 728.7,1049.3 741.5,1063.4 754.2,1078.5 766.9,1089.6 779.6,1097.7 792.3,1106.4 805.0,1107.8 817.8,1096.7 830.5,1088.6 843.2,1073.5 855.9,1060.4 868.6,1046.3 881.3,1042.2 894.0,1038.2 906.8,1032.2 919.5,1023.1 932.2,1017.6 944.9,1008.0 957.6,1019.7 970.3,1038.2 983.1,1052.3 995.8,1071.5 1008.5,1081.6 1021.2,1085.6 1033.9,1094.7 1046.6,1099.7 1059.4,1120.9 1072.1,1143.0 1186.5,1133.0 1199.2,1120.9 1211.9,1108.8 1224.7,1096.7 1237.4,1088.2 1250.1,1079.5 1262.8,1075.5 1275.5,1065.4 1288.2,1056.0 1301.0,1052.3 1313.7,1047.3 1326.4,1045.3 1339.1,1042.2 1351.8,1035.8 1364.5,1036.6 1377.3,1041.2 1390.0,1042.2 1402.7,1042.6 1415.4,1042.2 1428.1,1035.8 1440.8,1030.8 1453.6,1047.3 1466.3,1052.3 1479.0,1053.7 1491.7,1054.7 1504.4,1052.3 1517.1,1050.4 1529.8,1043.5 1542.6,1039.9 1555.3,1037.5 1568.0,1046.7 1580.7,1049.9 1593.4,1074.9 1606.1,1090.7 1618.9,1089.7 1631.6,1087.0 1644.3,1085.4 1657.0,1085.9 1669.7,1095.1 1682.4,1104.7" fill="none" stroke="#2196f3" stroke-width="2.2" stroke-linejoin="round"/></g></svg>
<svg class="ov" width="1984" height="1223" style="position:absolute;left:0;top:0"><text x="1832.05" y="132.40" fill="#131722" font-size="23.6" font-weight="normal" textLength="96.95" lengthAdjust="spacingAndGlyphs">1.19000</text><text x="1832.05" y="263.40" fill="#131722" font-size="23.6" font-weight="normal" textLength="96.95" lengthAdjust="spacingAndGlyphs">1.18500</text><text x="1832.05" y="394.40" fill="#131722" font-size="23.6" font-weight="normal" textLength="96.95" lengthAdjust="spacingAndGlyphs">1.18000</text><text x="1832.05" y="525.40" fill="#131722" font-size="23.6" font-weight="normal" textLength="96.95" lengthAdjust="spacingAndGlyphs">1.17500</text><text x="1832.05" y="656.40" fill="#131722" font-size="23.6" font-weight="normal" textLength="96.95" lengthAdjust="spacingAndGlyphs">1.17000</text><text x="1832.05" y="787.40" fill="#131722" font-size="23.6" font-weight="normal" textLength="96.95" lengthAdjust="spacingAndGlyphs">1.16500</text><path d="M1816 167.2 H1936 a4 4 0 0 1 4 4 V196.8 a4 4 0 0 1 -4 4 H1816 Z" fill="#f23645"/><text x="1832.03" y="192.90" fill="#fff" font-size="23.6" font-weight="normal" textLength="98.06" lengthAdjust="spacingAndGlyphs">1.18771</text><path d="M1816 248.2 H1936 a4 4 0 0 1 4 4 V277.8 a4 4 0 0 1 -4 4 H1816 Z" fill="#ff9800"/><text x="1832.03" y="273.90" fill="#131722" font-size="23.6" font-weight="normal" textLength="98.06" lengthAdjust="spacingAndGlyphs">1.18461</text><path d="M1816 318.2 H1936 a4 4 0 0 1 4 4 V347.8 a4 4 0 0 1 -4 4 H1816 Z" fill="#f23645"/><text x="1832.05" y="343.90" fill="#fff" font-size="23.6" font-weight="normal" textLength="96.95" lengthAdjust="spacingAndGlyphs">1.18195</text><path d="M1816 470.2 H1936 a4 4 0 0 1 4 4 V499.8 a4 4 0 0 1 -4 4 H1816 Z" fill="#f23645"/><text x="1832.05" y="495.90" fill="#fff" font-size="23.6" font-weight="normal" textLength="96.95" lengthAdjust="spacingAndGlyphs">1.17614</text><path d="M1816 701.2 H1936 a4 4 0 0 1 4 4 V730.8 a4 4 0 0 1 -4 4 H1816 Z" fill="#f23645"/><text x="1832.03" y="726.90" fill="#fff" font-size="23.6" font-weight="normal" textLength="98.06" lengthAdjust="spacingAndGlyphs">1.16731</text><path d="M1816 770.2 H1936 a4 4 0 0 1 4 4 V799.8 a4 4 0 0 1 -4 4 H1816 Z" fill="#089981"/><text x="1832.03" y="795.90" fill="#fff" font-size="23.6" font-weight="normal" textLength="98.06" lengthAdjust="spacingAndGlyphs">1.16466</text><path d="M1816 848.0 H1936 a4 4 0 0 1 4 4 V877.6 a4 4 0 0 1 -4 4 H1816 Z" fill="#089981"/><text x="1832.03" y="873.70" fill="#fff" font-size="23.6" font-weight="normal" textLength="98.06" lengthAdjust="spacingAndGlyphs">1.16103</text><text x="35.74" y="60.10" fill="#131722" font-size="23.6" font-weight="normal" textLength="208.63" lengthAdjust="spacingAndGlyphs">EUR/USD Spot, 4h</text><text x="258.14" y="60.10" fill="#131722" font-size="23.6" font-weight="normal" textLength="18.65" lengthAdjust="spacingAndGlyphs">O</text><text x="277.12" y="60.10" fill="#f23645" font-size="23.6" font-weight="normal" textLength="84.83" lengthAdjust="spacingAndGlyphs">1.16765</text><text x="376.73" y="60.10" fill="#131722" font-size="23.6" font-weight="normal" textLength="18.71" lengthAdjust="spacingAndGlyphs">H</text><text x="395.09" y="60.10" fill="#f23645" font-size="23.6" font-weight="normal" textLength="86.32" lengthAdjust="spacingAndGlyphs">1.16827</text><text x="494.89" y="60.10" fill="#131722" font-size="23.6" font-weight="normal" textLength="13.27" lengthAdjust="spacingAndGlyphs">L</text><text x="507.19" y="60.10" fill="#f23645" font-size="23.6" font-weight="normal" textLength="86.47" lengthAdjust="spacingAndGlyphs">1.16725</text><text x="608.57" y="60.10" fill="#131722" font-size="23.6" font-weight="normal" textLength="16.82" lengthAdjust="spacingAndGlyphs">C</text><text x="626.82" y="60.10" fill="#f23645" font-size="23.6" font-weight="normal" textLength="80.40" lengthAdjust="spacingAndGlyphs">1.16731</text><text x="721.84" y="60.10" fill="#f23645" font-size="23.6" font-weight="normal" textLength="110.98" lengthAdjust="spacingAndGlyphs">−0.00033</text><text x="840.78" y="60.10" fill="#f23645" font-size="23.6" font-weight="normal" textLength="103.77" lengthAdjust="spacingAndGlyphs">(−0.03%)</text><text x="217.24" y="1160.00" fill="#131722" font-size="23.6" font-weight="normal" textLength="29.34" lengthAdjust="spacingAndGlyphs">11</text><text x="383.35" y="1160.00" fill="#131722" font-size="23.6" font-weight="normal" textLength="29.93" lengthAdjust="spacingAndGlyphs">15</text><text x="611.84" y="1160.00" fill="#131722" font-size="23.6" font-weight="normal" textLength="30.04" lengthAdjust="spacingAndGlyphs">18</text><text x="777.65" y="1160.00" fill="#131722" font-size="23.6" font-weight="normal" textLength="29.20" lengthAdjust="spacingAndGlyphs">22</text><text x="1005.96" y="1160.00" fill="#131722" font-size="23.6" font-weight="normal" textLength="28.88" lengthAdjust="spacingAndGlyphs">25</text><text x="1317.47" y="1160.00" fill="#131722" font-size="23.6" font-weight="bold" textLength="43.04" lengthAdjust="spacingAndGlyphs">Oct</text><text x="1560.97" y="1160.00" fill="#131722" font-size="23.6" font-weight="normal" textLength="14.25" lengthAdjust="spacingAndGlyphs">5</text><text x="1725.53" y="1160.00" fill="#131722" font-size="23.6" font-weight="normal" textLength="14.83" lengthAdjust="spacingAndGlyphs">8</text><text x="35.72" y="923.90" fill="#131722" font-size="23.6" font-weight="normal" textLength="87.61" lengthAdjust="spacingAndGlyphs">RSI (14)</text><text x="138.97" y="923.90" fill="#9c55c2" font-size="23.6" font-weight="normal" textLength="58.46" lengthAdjust="spacingAndGlyphs">38.71</text><text x="35.91" y="1059.00" fill="#131722" font-size="23.6" font-weight="normal" textLength="265.85" lengthAdjust="spacingAndGlyphs">MACD (12, 26, close, 9)</text><text x="316.69" y="1059.00" fill="#ff5252" font-size="23.6" font-weight="normal" textLength="105.89" lengthAdjust="spacingAndGlyphs">−0.00041</text><text x="437.30" y="1059.00" fill="#2196f3" font-size="23.6" font-weight="normal" textLength="102.82" lengthAdjust="spacingAndGlyphs">−0.00119</text><text x="553.87" y="1059.00" fill="#ff6d00" font-size="23.6" font-weight="normal" textLength="108.33" lengthAdjust="spacingAndGlyphs">−0.00077</text><svg x="0" y="884" width="1984" height="133" overflow="hidden"><text x="1832.95" y="12.50" fill="#131722" font-size="23.6" textLength="65.64" lengthAdjust="spacingAndGlyphs">75.00</text></svg><text x="1832.44" y="969.90" fill="#131722" font-size="23.6" font-weight="normal" textLength="66.15" lengthAdjust="spacingAndGlyphs">50.00</text><path d="M1816 976.2 H1906 a4 4 0 0 1 4 4 V1005.8 a4 4 0 0 1 -4 4 H1816 Z" fill="#9c55c2"/><text x="1832.47" y="1001.90" fill="#fff" font-size="23.6" font-weight="normal" textLength="64.72" lengthAdjust="spacingAndGlyphs">38.71</text><svg x="0" y="1019" width="1984" height="102" overflow="hidden"><text x="1832.23" y="37.20" fill="#131722" font-size="23.6" textLength="96.67" lengthAdjust="spacingAndGlyphs">0.00000</text><path d="M1816 70 H1951 a4 4 0 0 1 4 4 V110 H1816 Z" fill="#2196f3"/></svg><path d="M1816 1050.3 H1951.8 a4 4 0 0 1 4 4 V1079.8 a4 4 0 0 1 -4 4 H1816 Z" fill="#ff5252"/><text x="1832.24" y="1075.95" fill="#fff" font-size="23.6" font-weight="normal" textLength="111.69" lengthAdjust="spacingAndGlyphs">−0.00041</text><path d="M1816 1084.9 H1951.8 a4 4 0 0 1 4 4 V1113.5 a4 4 0 0 1 -4 4 H1816 Z" fill="#ff6d00"/><text x="1832.24" y="1110.10" fill="#fff" font-size="23.6" font-weight="normal" textLength="111.69" lengthAdjust="spacingAndGlyphs">−0.00077</text><path d="M20 1202 H35.2 V1221.3 H27.9 V1209.4 H20 Z" fill="#131722"/><circle cx="42.2" cy="1206.4" r="4.3" fill="#131722"/><path d="M50.3 1202 H59.1 L51 1221.3 H42.5 Z" fill="#131722"/><text x="67.00" y="1221.8" fill="#131722" font-size="23.6" textLength="146.55" lengthAdjust="spacingAndGlyphs">TradingView</text></svg>
</body></html>
